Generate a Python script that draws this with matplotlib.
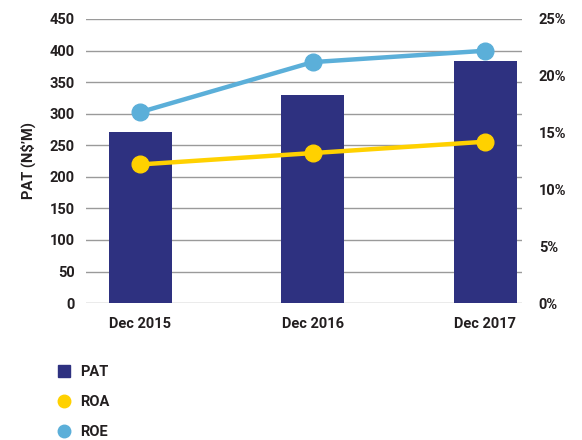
import matplotlib
matplotlib.use("Agg")
import matplotlib.pyplot as plt
from matplotlib.lines import Line2D

categories = ["Dec 2015", "Dec 2016", "Dec 2017"]
pat = [271, 330, 383]
roa = [12.2, 13.2, 14.2]
roe = [16.8, 21.2, 22.2]
left_ticks = [0, 50, 100, 150, 200, 250, 300, 350, 400, 450]
right_ticks = [0, 5, 10, 15, 20, 25]

bar_color = "#2E3180"
roa_color = "#FFD100"
roe_color = "#5BAFD9"
txt_color = "#231F20"

plt.rcParams['font.family'] = ['Roboto', 'DejaVu Sans']
plt.rcParams['font.weight'] = 'bold'

fig = plt.figure(figsize=(5.82, 4.4), dpi=100)
ax = fig.add_axes([0.148, 0.311, 0.749, 0.646])
x = list(range(len(categories)))
ax.bar(x, pat, width=0.365, color=bar_color, zorder=2)
ax.set_ylim(0, 450)
ax.set_xlim(-0.313, 2.214)
ax.set_yticks(left_ticks)
ax.set_xticks(x)
ax.set_xticklabels(categories)
ax.grid(axis='y', color='#9a9a9a', linewidth=1.0, zorder=0)
ax.set_axisbelow(True)
for s in ax.spines.values():
    s.set_visible(False)
ax.tick_params(length=0, labelsize=10.5, colors=txt_color, pad=8)
ax.tick_params(axis='x', pad=10)
ax.set_ylabel("PAT (N\\$’M)", fontsize=10.5, color=txt_color, labelpad=10, fontweight='bold')

ax2 = ax.twinx()
ax2.set_ylim(0, 25)
ax2.set_yticks(right_ticks)
ax2.set_yticklabels([f"{t}%" for t in right_ticks])
for s in ax2.spines.values():
    s.set_visible(False)
ax2.tick_params(length=0, labelsize=10.5, colors=txt_color, pad=12)
ax2.plot(x, roa, color=roa_color, linewidth=3.2, marker='o', markersize=12, zorder=3)
ax2.plot(x, roe, color=roe_color, linewidth=3.2, marker='o', markersize=12, zorder=3)

handles = [
    Line2D([], [], linestyle='none', marker='s', markersize=9, color=bar_color),
    Line2D([], [], linestyle='none', marker='o', markersize=9, color=roa_color),
    Line2D([], [], linestyle='none', marker='o', markersize=9, color=roe_color),
]
fig.legend(handles, ["PAT", "ROA", "ROE"], loc='upper left',
           bbox_to_anchor=(0.075, 0.2), frameon=False, fontsize=10.5,
           labelspacing=1.1, handletextpad=0.6, handlelength=1.0,
           labelcolor=txt_color)

fig.savefig("out.png", dpi=100)
